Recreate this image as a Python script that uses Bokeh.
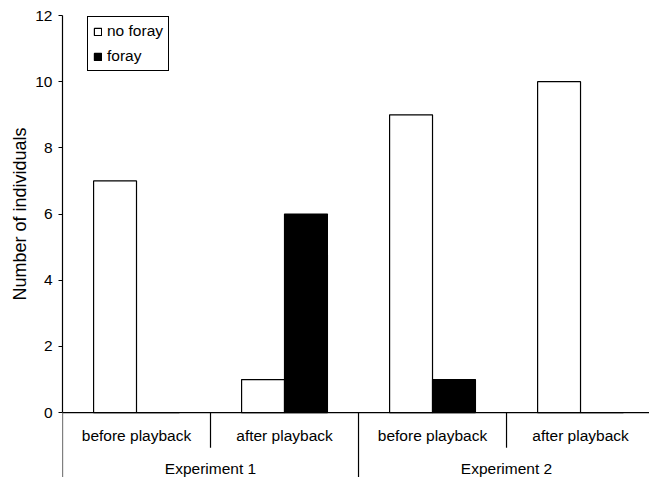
from bokeh.plotting import figure
from bokeh.models import Range1d, LinearAxis, FixedTicker, Legend, LegendItem, ColumnDataSource, Span, Title
from bokeh.core.properties import value
from bokeh.embed import file_html
from bokeh.resources import INLINE

experiments = ["Experiment 1", "Experiment 2"]
conditions = ["before playback", "after playback"]
no_foray = [7, 1, 9, 10]
foray = [0, 6, 1, 0]
y_ticks = [0, 2, 4, 6, 8, 10, 12]
y_title = "Number of individuals"

FONT = "Liberation Sans"
n_cat = len(experiments) * len(conditions)
centers = [i + 0.5 for i in range(n_cat)]
bw = 0.29

p = figure(width=649, height=477, x_range=Range1d(0, 3.966), y_range=Range1d(-1.96, 12),
           output_backend="svg", toolbar_location=None,
           x_axis_location=None, y_axis_location=None,
           min_border_left=62, min_border_right=0, min_border_top=15, min_border_bottom=0)
p.outline_line_color = None
p.background_fill_color = "white"
p.border_fill_color = "white"
p.xgrid.grid_line_color = None
p.ygrid.grid_line_color = None
p.grid.visible = False

yaxis = LinearAxis(bounds=(0, 12), ticker=FixedTicker(ticks=y_ticks))
yaxis.axis_line_color = "black"
yaxis.axis_line_width = 1.2
yaxis.major_tick_line_color = "black"
yaxis.major_tick_line_width = 1.2
yaxis.major_tick_in = 0
yaxis.major_tick_out = 4
yaxis.minor_tick_line_color = None
yaxis.major_label_standoff = 6
yaxis.major_label_text_font = FONT
yaxis.major_label_text_font_size = "15.5px"
yaxis.major_label_text_color = "black"
p.add_layout(yaxis, "left")

# vertical title placed along the 0..12 part of the axis
p.add_layout(Title(text=y_title, align="left", offset=177, text_font=FONT,
                   text_font_size="18px", text_font_style="normal", text_color="black",
                   standoff=5), "left")

src = ColumnDataSource(dict(
    x_nf=[c - bw / 2 for c in centers],
    x_f=[c + bw / 2 for c in centers],
    nf=no_foray, f=foray,
))
r1 = p.vbar(x="x_nf", top="nf", bottom=0, width=bw, source=src,
            fill_color="white", line_color="black", line_width=1.2)
r2 = p.vbar(x="x_f", top="f", bottom=0, width=bw, source=src,
            fill_color="black", line_color="black", line_width=1.2)

p.add_layout(Span(location=0, dimension="width", line_color="black", line_width=1.2))

# separators
sub_x = [i + 1 for i in range(0, n_cat, 2)]
grp_x = [i for i in range(0, n_cat + 1, 2)]
p.segment(x0=sub_x, y0=[0] * len(sub_x), x1=sub_x, y1=[-1.06] * len(sub_x),
          line_color="black", line_width=1.2)
p.segment(x0=grp_x, y0=[0] * len(grp_x), x1=grp_x, y1=[-2.0] * len(grp_x),
          line_color="black", line_width=1.2)

p.text(x=centers, y=[-0.69] * n_cat, text=conditions * len(experiments),
       text_align="center", text_baseline="middle", text_color="black",
       text_font=value(FONT), text_font_size="15.5px")
p.text(x=[1.0 + 2 * i for i in range(len(experiments))], y=[-1.69] * len(experiments),
       text=experiments, text_align="center", text_baseline="middle", text_color="black",
       text_font=value(FONT), text_font_size="15.5px")

legend = Legend(items=[LegendItem(label="no foray", renderers=[r1]),
                       LegendItem(label="foray", renderers=[r2])],
                location=(25, 406))
legend.glyph_width = 9
legend.glyph_height = 9
legend.label_standoff = 5
legend.label_height = 17
legend.spacing = 7
legend.padding = 5
legend.margin = 0
legend.label_text_font = FONT
legend.label_text_font_size = "15.5px"
legend.label_text_color = "black"
legend.border_line_color = "black"
legend.border_line_width = 1
legend.border_line_alpha = 1
legend.background_fill_color = "white"
legend.background_fill_alpha = 1
p.add_layout(legend, "center")

open("out.html", "w").write(file_html(p, INLINE))
